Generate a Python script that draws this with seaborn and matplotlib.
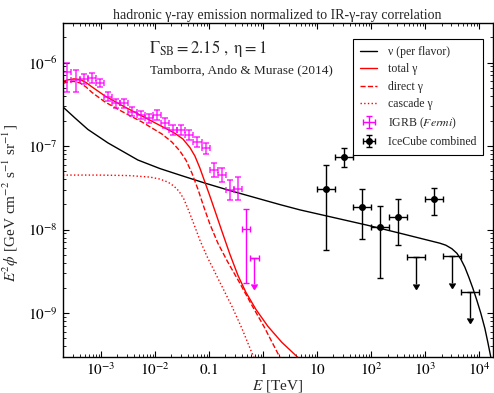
import numpy as np
import pandas as pd
import matplotlib
matplotlib.use("Agg")
import matplotlib.pyplot as plt
import matplotlib.ticker as mticker
import seaborn as sns

# ---- model curves, E in TeV, E^2 phi in GeV cm^-2 s^-1 sr^-1 ----
nu_E = [1.965e-4, 3.28e-4, 5.70e-4, 1.34e-3, 4.80e-3, 1.23e-2, 2.87e-2, 8.34e-2, 0.242, 2.04,
        4.78, 83, 339, 1862, 2404, 3105, 3840, 4550, 5400, 6400, 7590, 9000, 10670, 12670,
        14390, 16360]
nu_flux = [2.94e-7, 2.17e-7, 1.58e-7, 1.09e-7, 6.80e-8, 5.37e-8, 4.49e-8, 3.60e-8, 2.93e-8,
           1.99e-8, 1.72e-8, 1.13e-8, 9.04e-9, 6.86e-9, 6.49e-9, 5.89e-9, 5.20e-9, 4.41e-9,
           3.54e-9, 2.68e-9, 1.98e-9, 1.42e-9, 9.92e-10, 6.55e-10, 4.45e-10, 2.94e-10]

tot_E = [1.965e-4, 2.432e-4, 3.141e-4, 4.056e-4, 5.237e-4, 6.763e-4, 1.177e-3, 2.428e-3,
         5.690e-3, 1.335e-2, 2.323e-2, 3.266e-2, 4.401e-2, 5.447e-2, 6.739e-2, 8.339e-2,
         0.1032, 0.1277, 0.1720, 0.2419, 0.3402, 0.4786, 0.7325, 1.222, 2.219, 4.386]
tot_flux = [5.948e-7, 6.200e-7, 6.374e-7, 6.269e-7, 5.786e-7, 5.110e-7, 3.985e-7, 3.064e-7,
            2.293e-7, 1.716e-7, 1.421e-7, 1.214e-7, 9.603e-8, 7.593e-8, 5.448e-8, 3.702e-8,
            2.514e-8, 1.684e-8, 9.559e-9, 5.062e-9, 2.835e-9, 1.772e-9, 1.107e-9, 6.926e-10,
            4.450e-10, 2.940e-10]

dir_E = [1.965e-4, 2.432e-4, 3.141e-4, 4.056e-4, 5.237e-4, 6.763e-4, 1.177e-3, 2.428e-3,
         5.690e-3, 1.335e-2, 2.044e-2, 2.874e-2, 3.712e-2, 4.793e-2, 6.187e-2, 7.991e-2,
         0.1032, 0.1451, 0.2222, 0.3705, 0.6179, 1.030, 2.038]
dir_flux = [5.628e-7, 5.866e-7, 5.948e-7, 5.707e-7, 5.110e-7, 4.389e-7, 3.376e-7, 2.597e-7,
            1.943e-7, 1.394e-7, 1.117e-7, 8.717e-8, 6.797e-8, 4.745e-8, 3.050e-8, 1.855e-8,
            1.160e-8, 6.862e-9, 4.058e-9, 2.272e-9, 1.237e-9, 6.926e-10, 2.940e-10]

cas_E = [1.965e-4, 9.192e-4, 3.300e-3, 8.006e-3, 1.226e-2, 1.724e-2, 2.226e-2, 2.754e-2,
         3.408e-2, 4.217e-2, 5.220e-2, 6.739e-2, 9.082e-2, 0.1224, 0.1720, 0.2635, 0.4035,
         0.5919, 0.6729]
cas_flux = [4.490e-8, 4.490e-8, 4.428e-8, 4.249e-8, 4.021e-8, 3.702e-8, 3.314e-8, 2.886e-8,
            2.314e-8, 1.661e-8, 1.160e-8, 7.455e-9, 4.790e-9, 3.253e-9, 2.091e-9, 1.203e-9,
            6.553e-10, 3.566e-10, 2.940e-10]

# ---- Fermi IGRB ----
igrb_E = [2.38e-4, 3.36e-4, 4.76e-4, 6.72e-4, 9.51e-4, 1.345e-3, 1.90e-3, 2.69e-3, 3.80e-3,
          5.38e-3, 7.61e-3, 1.076e-2, 1.52e-2, 2.15e-2, 3.04e-2, 4.30e-2, 6.08e-2, 8.61e-2,
          0.1217, 0.172, 0.243, 0.344, 0.487, 0.688]
igrb_edges = [2.0e-4, 2.83e-4, 4.0e-4, 5.66e-4, 8.0e-4, 1.13e-3, 1.6e-3, 2.26e-3, 3.2e-3,
              4.53e-3, 6.4e-3, 9.05e-3, 1.28e-2, 1.81e-2, 2.56e-2, 3.62e-2, 5.12e-2, 7.24e-2,
              0.1024, 0.1448, 0.2048, 0.2896, 0.4096, 0.5792, 0.8192]
igrb_flux = [7.8, 6.2, 6.3, 6.5, 5.7, 3.9, 3.26, 3.26, 2.58, 2.36, 2.15, 2.36, 1.90, 1.56,
             1.56, 1.36, 1.13, 0.94, 0.515, 0.45, 0.297, 0.31, 0.101, 0.045]   # x 1e-7
igrb_up = [2.0, 2.0, 0.95, 0.9, 0.7, 0.5, 0.45, 0.45, 0.35, 0.3, 0.3, 0.35, 0.28, 0.22,
           0.22, 0.2, 0.17, 0.15, 0.11, 0.1, 0.095, 0.12, 0.075]
igrb_dn = [3.3, 1.8, 0.8, 0.8, 0.6, 0.45, 0.4, 0.4, 0.3, 0.28, 0.26, 0.3, 0.24, 0.2,
           0.2, 0.17, 0.15, 0.13, 0.09, 0.08, 0.07, 0.087, 0.078]

# ---- IceCube combined ----
ic_E = [14.7, 31.6, 68.1, 147, 316, 681, 1470, 3160, 6810]
ic_lo_edge = [10, 21.5, 46.4, 100, 215, 464, 1000, 2150, 4640]
ic_hi_edge = [21.5, 46.4, 100, 215, 464, 1000, 2150, 4640, 10000]
ic_flux = [3.05e-8, 7.44e-8, 1.87e-8, 1.06e-8, 1.42e-8, 4.7e-9, 2.29e-8, 4.8e-9, 1.8e-9]
ic_hi = [5.9e-8, 9.37e-8, 3.02e-8, 1.92e-8, 2.29e-8, np.nan, 3.16e-8, np.nan, np.nan]
ic_lo = [5.64e-9, 5.65e-8, 7.8e-9, 2.62e-9, 6.6e-9, np.nan, 1.49e-8, np.nan, np.nan]
ic_ul = [False, False, False, False, False, True, False, True, True]

xticks = [1e-3, 1e-2, 1e-1, 1, 10, 1e2, 1e3, 1e4]
xticklabels = ["$10^{-3}$", "$10^{-2}$", "$0.1$", "$1$", "$10$", "$10^{2}$", "$10^{3}$", "$10^{4}$"]
yticks = [1e-9, 1e-8, 1e-7, 1e-6]
yticklabels = ["$10^{-9}$", "$10^{-8}$", "$10^{-7}$", "$10^{-6}$"]

sns.set_style("ticks")
plt.rcParams["font.family"] = ["Liberation Serif", "STIXGeneral", "DejaVu Serif"]
plt.rcParams["mathtext.fontset"] = "stix"
plt.rcParams["axes.edgecolor"] = "black"
plt.rcParams["xtick.color"] = "black"
plt.rcParams["ytick.color"] = "black"

fig = plt.figure(figsize=(4.94, 3.93), dpi=100)
ax = fig.add_axes([0.127, 0.0924, 0.8704, 0.8498])
ax.set_xscale("log")
ax.set_yscale("log")

curves = pd.concat([
    pd.DataFrame({"E": nu_E, "flux": nu_flux, "name": "nu"}),
    pd.DataFrame({"E": tot_E, "flux": tot_flux, "name": "tot"}),
    pd.DataFrame({"E": dir_E, "flux": dir_flux, "name": "dir"}),
    pd.DataFrame({"E": cas_E, "flux": cas_flux, "name": "cas"}),
])
styles = {"nu": ("black", "-", "ν (per flavor)"),
          "tot": ("red", "-", "total γ"),
          "dir": ("red", "--", "direct γ"),
          "cas": ("red", ":", "cascade γ")}
handles = []
for name, (c, ls, lab) in styles.items():
    sub = curves[curves["name"] == name]
    sns.lineplot(data=sub, x="E", y="flux", ax=ax, color=c, linestyle=ls, lw=1.0,
                 sort=False, estimator=None, label=lab, legend=False)
    handles.append(ax.lines[-1])

# IGRB: most bins drawn a bit lighter, the last ones in full magenta
E = np.array(igrb_E)
ed = np.array(igrb_edges)
f = np.array(igrb_flux) * 1e-7
xe = np.array([E - ed[:-1], ed[1:] - E])
ye = np.array([igrb_dn, igrb_up]) * 1e-7
n = len(igrb_up)
k = n - 1
ax.errorbar(E[:k], f[:k], xerr=xe[:, :k], yerr=ye[:, :k],
            fmt="none", color="magenta", ecolor="magenta", elinewidth=1.3,
            capsize=2.2, capthick=1.3, alpha=0.7)
eb1 = ax.errorbar(E[k:n], f[k:n], xerr=xe[:, k:n], yerr=ye[:, k:n],
                  fmt="none", color="magenta", ecolor="magenta", elinewidth=1.0,
                  capsize=2.2, capthick=1.0)
ax.errorbar(E[n:], f[n:], xerr=xe[:, n:], yerr=f[n:] * 0.5, uplims=True,
            fmt="none", color="magenta", ecolor="magenta", elinewidth=1.0,
            capsize=2.2, capthick=1.0)

# IceCube
icE = np.array(ic_E)
icf = np.array(ic_flux)
ul = np.array(ic_ul)
xerr_ic = np.array([icE - np.array(ic_lo_edge), np.array(ic_hi_edge) - icE])
m = ~ul
eb2 = ax.errorbar(icE[m], icf[m], xerr=xerr_ic[:, m],
                  yerr=[icf[m] - np.array(ic_lo)[m], np.array(ic_hi)[m] - icf[m]],
                  fmt="o", color="black", ms=4, elinewidth=1.0, capsize=2.5, capthick=1.0)
ax.errorbar(icE[ul], icf[ul], xerr=xerr_ic[:, ul], yerr=icf[ul] * 0.52, uplims=True,
            fmt="none", color="black", ecolor="black", elinewidth=1.0,
            capsize=2.5, capthick=1.0)

ax.set_xlim(1.95e-4, 1.77e4)
ax.set_ylim(3e-10, 3e-6)
ax.set_xticks(xticks)
ax.set_xticklabels(xticklabels)
ax.set_yticks(yticks)
ax.set_yticklabels(yticklabels)
ax.xaxis.set_minor_locator(mticker.LogLocator(base=10, subs=np.arange(2, 10), numticks=20))
ax.yaxis.set_minor_locator(mticker.LogLocator(base=10, subs=np.arange(2, 10), numticks=20))
ax.xaxis.set_minor_formatter(mticker.NullFormatter())
ax.yaxis.set_minor_formatter(mticker.NullFormatter())
ax.tick_params(which="both", direction="in", top=True, right=True, labelsize=11)
ax.tick_params(which="major", length=4, width=0.8)
ax.tick_params(which="minor", length=2, width=0.6)
for s in ax.spines.values():
    s.set_linewidth(1.0)

ax.set_xlabel("$E$ [TeV]", fontsize=11, labelpad=0)
ax.set_ylabel(r"$E^2\phi$ [GeV cm$^{-2}$ s$^{-1}$ sr$^{-1}$]", fontsize=11)
ax.yaxis.set_label_coords(-0.097, 0.46)
ax.set_title("hadronic γ-ray emission normalized to IR-γ-ray correlation", fontsize=10, pad=3)

ax.text(0.2, 0.924, r"$\Gamma_{\rm SB} = 2.15\ ,\ \mathrm{\eta} = 1$", fontsize=12,
        va="center", ha="left", transform=ax.transAxes)
ax.text(0.203, 0.858, "Tamborra, Ando & Murase (2014)", fontsize=9.5,
        va="center", ha="left", transform=ax.transAxes)

handles += [eb1, eb2]
labels = ["ν (per flavor)", "total γ", "direct γ", "cascade γ",
          r"IGRB ($\mathit{Fermi}$)", "IceCube combined"]
leg = ax.legend(handles, labels, loc="upper right", bbox_to_anchor=(0.9774, 0.951),
                borderaxespad=0, frameon=True, fancybox=False, edgecolor="black",
                framealpha=1, fontsize=8.5, handlelength=1.4, labelspacing=0.45,
                borderpad=0.6, handletextpad=0.9)
leg.get_frame().set_linewidth(0.8)

fig.savefig("out.png", dpi=100)
